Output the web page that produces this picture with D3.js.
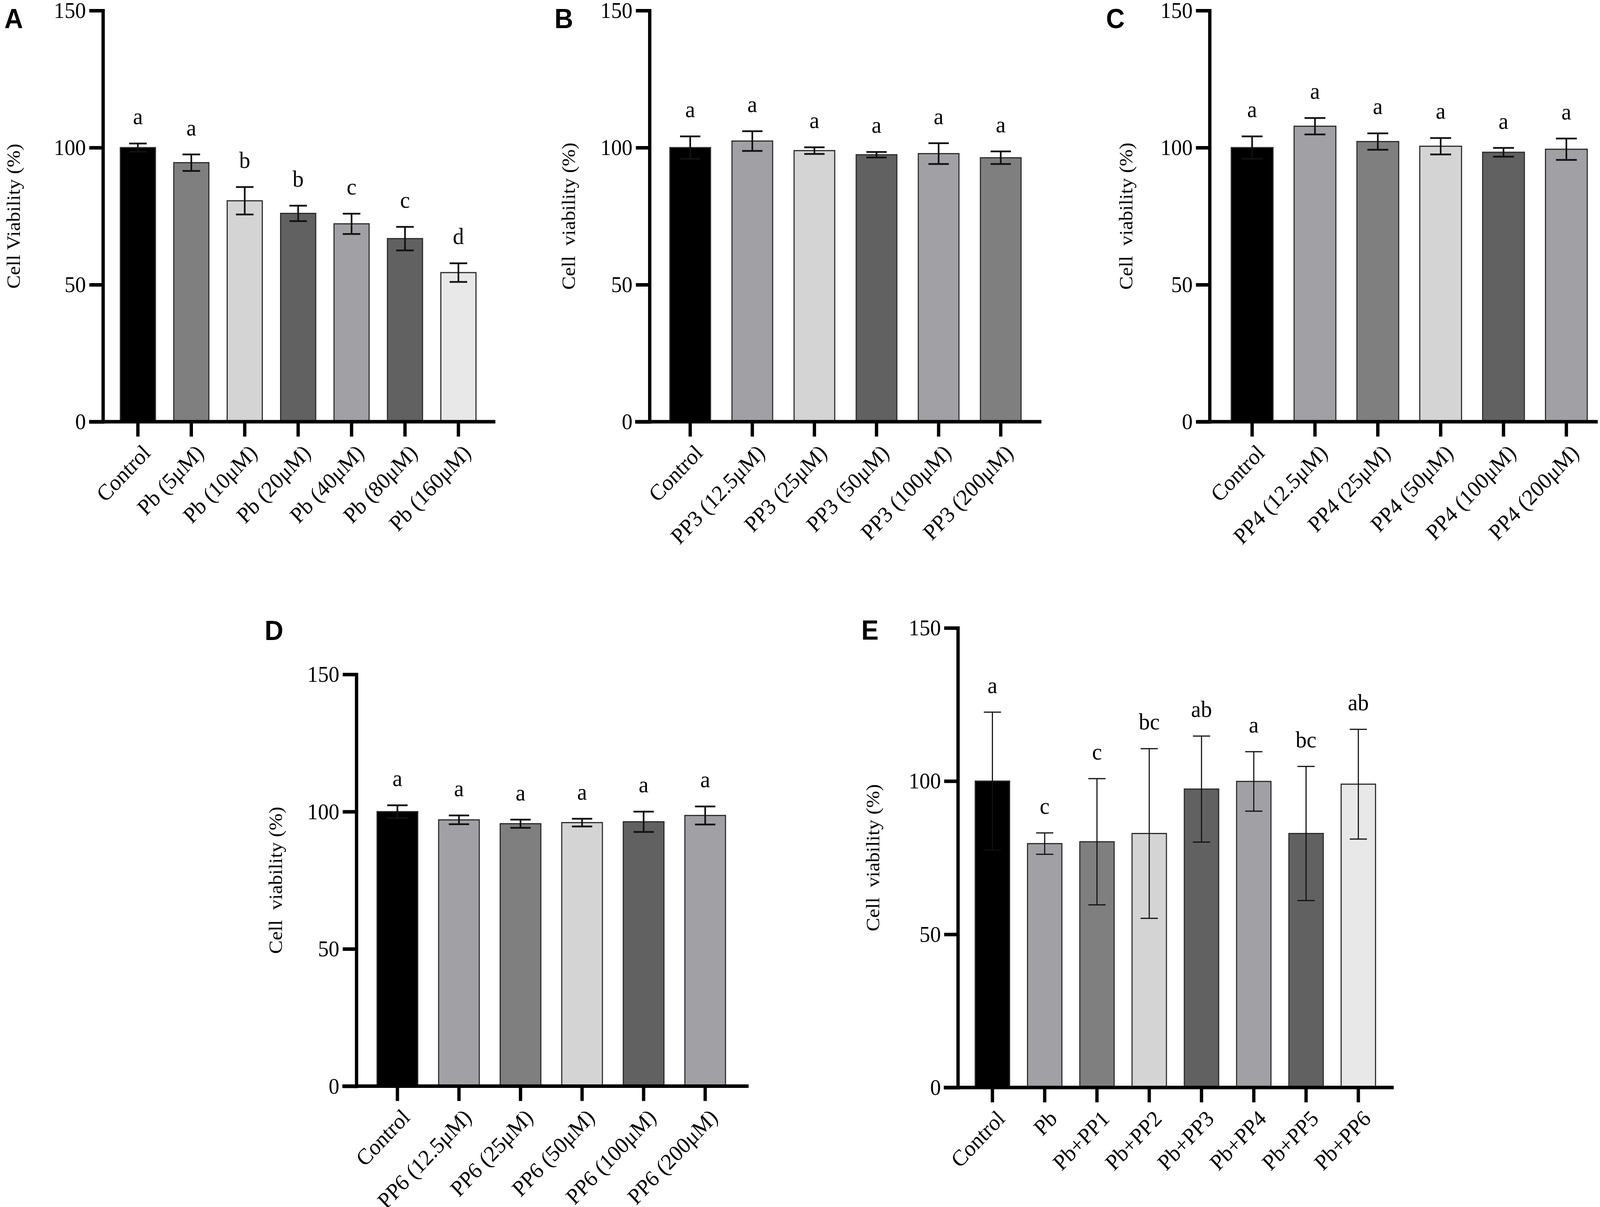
<!DOCTYPE html>
<html>
<head>
<meta charset="utf-8">
<script src="https://cdn.jsdelivr.net/npm/d3@7"></script>
<style>
  html, body { margin: 0; padding: 0; background: #fff; overflow: hidden; width: 100%; height: 100%; }
  #chart { width: 100vw; height: 100vh; }
  svg { display: block; width: 100%; height: 100%; }
  text { font-family: "Liberation Serif", "Times New Roman", serif; fill: #000; }
  .panel-tag { font-family: "Liberation Sans", Arial, sans-serif; font-weight: bold; }
</style>
</head>
<body>
<div id="chart"></div>
<script>
// ---- data ----
var yTicks = [0, 50, 100, 150];

var catsA = ["Control", "Pb (5μM)", "Pb (10μM)", "Pb (20μM)", "Pb (40μM)", "Pb (80μM)", "Pb (160μM)"];
var meanA = [100, 94.5, 80.6, 76.0, 72.2, 66.8, 54.4];
var errA  = [1.5, 3.0, 5.0, 2.8, 3.7, 4.3, 3.4];
var letA  = ["a", "a", "b", "b", "c", "c", "d"];

var catsB = ["Control", "PP3 (12.5μM)", "PP3 (25μM)", "PP3 (50μM)", "PP3 (100μM)", "PP3 (200μM)"];
var meanB = [100, 102.4, 98.9, 97.4, 97.8, 96.3];
var errB  = [4.1, 3.6, 1.2, 1.0, 3.8, 2.3];
var letB  = ["a", "a", "a", "a", "a", "a"];

var catsC = ["Control", "PP4 (12.5μM)", "PP4 (25μM)", "PP4 (50μM)", "PP4 (100μM)", "PP4 (200μM)"];
var meanC = [100, 107.8, 102.2, 100.5, 98.3, 99.4];
var errC  = [4.1, 3.0, 3.0, 3.0, 1.6, 3.9];
var letC  = ["a", "a", "a", "a", "a", "a"];

var catsD = ["Control", "PP6 (12.5μM)", "PP6 (25μM)", "PP6 (50μM)", "PP6 (100μM)", "PP6 (200μM)"];
var meanD = [100, 97.0, 95.6, 96.0, 96.3, 98.6];
var errD  = [2.3, 1.6, 1.5, 1.4, 3.7, 3.3];
var letD  = ["a", "a", "a", "a", "a", "a"];

var catsE = ["Control", "Pb", "Pb+PP1", "Pb+PP2", "Pb+PP3", "Pb+PP4", "Pb+PP5", "Pb+PP6"];
var meanE = [100, 79.6, 80.2, 82.9, 97.4, 99.9, 82.9, 99.0];
var errE  = [22.5, 3.5, 20.6, 27.7, 17.3, 9.7, 21.9, 17.9];
var letE  = ["a", "c", "c", "bc", "ab", "a", "bc", "ab"];

// bar fills (greys used by the figure)
var BLK = "#000000", MID = "#7f7f7f", LT = "#d4d4d4", DK = "#616161", BG = "#a1a1a5", XLT = "#e8e8e8";
var fillA = [BLK, MID, LT, DK, BG, DK, XLT];
var fillB = [BLK, BG, LT, DK, BG, MID];
var fillC = [BLK, BG, MID, LT, DK, BG];
var fillD = [BLK, BG, MID, LT, DK, BG];
var fillE = [BLK, BG, MID, LT, DK, BG, DK, XLT];

var W = 4328, H = 3091;

// drawn in the reference's own pixel space, stretched to whatever the viewport is
var svg = d3.select("#chart").append("svg")
    .attr("viewBox", "0 0 " + W + " " + H)
    .attr("preserveAspectRatio", "none");

svg.append("rect").attr("width", W).attr("height", H).attr("fill", "#fff");

function renderPanel(p) {
    var n = p.cats.length;
    var x = d3.scaleBand()
        .domain(p.cats)
        .range([p.c0 - p.step / 2, p.c0 + (n - 0.5) * p.step])
        .paddingInner(1 - p.bw / p.step)
        .paddingOuter((1 - p.bw / p.step) / 2);
    var y = d3.scaleLinear().domain([0, 150]).range([p.y0, p.y150]);

    var g = svg.append("g");
    var rows = p.cats.map(function(c, i) {
        return {cat: c, v: p.mean[i], e: p.err[i], l: p.lets[i], f: p.fill[i]};
    });

    // bars
    g.selectAll(".bar")
        .data(rows)
        .enter().append("rect")
        .attr("class", "bar")
        .attr("x", function(d) { return x(d.cat); })
        .attr("y", function(d) { return y(d.v); })
        .attr("width", x.bandwidth())
        .attr("height", function(d) { return y(0) - y(d.v); })
        .attr("fill", function(d) { return d.f; })
        .attr("stroke", "#2b2b2b")
        .attr("stroke-width", 3);

    // error bars
    var cap = x.bandwidth() * 0.25;
    var eb = g.selectAll(".err")
        .data(rows)
        .enter().append("g")
        .attr("class", "err")
        .attr("stroke", "#111")
        .attr("stroke-width", p.ew)
        .attr("transform", function(d) { return "translate(" + (x(d.cat) + x.bandwidth() / 2) + ",0)"; });
    eb.append("line")
        .attr("y1", function(d) { return y(d.v - d.e); })
        .attr("y2", function(d) { return y(d.v + d.e); });
    eb.append("line")
        .attr("x1", -cap).attr("x2", cap)
        .attr("y1", function(d) { return y(d.v + d.e); })
        .attr("y2", function(d) { return y(d.v + d.e); });
    eb.append("line")
        .attr("x1", -cap).attr("x2", cap)
        .attr("y1", function(d) { return y(d.v - d.e); })
        .attr("y2", function(d) { return y(d.v - d.e); });

    // significance letters
    g.selectAll(".sig")
        .data(rows)
        .enter().append("text")
        .attr("class", "sig")
        .attr("x", function(d) { return x(d.cat) + x.bandwidth() / 2; })
        .attr("y", function(d) { return y(d.v + d.e) - 49; })
        .attr("text-anchor", "middle")
        .attr("font-size", 60)
        .text(function(d) { return d.l; });

    // y axis
    var ya = g.append("g")
        .attr("transform", "translate(" + p.ax + ",0)")
        .call(d3.axisLeft(y).tickValues(yTicks).tickSize(37).tickSizeOuter(0).tickPadding(9));
    ya.select(".domain").attr("stroke", "#000").attr("stroke-width", 9).attr("stroke-linecap", "square");
    ya.selectAll(".tick line").attr("stroke", "#000").attr("stroke-width", 9);
    ya.selectAll(".tick text").attr("font-size", 58).attr("font-family", "Liberation Serif, serif").attr("fill", "#000");

    // x axis
    var xa = g.append("g")
        .attr("transform", "translate(0," + p.y0 + ")")
        .call(d3.axisBottom(x).tickSize(38).tickSizeOuter(0));
    xa.select(".domain").remove();
    xa.selectAll(".tick line").attr("stroke", "#000").attr("stroke-width", 9);
    xa.selectAll(".tick text")
        .attr("font-size", 58)
        .attr("font-family", "Liberation Serif, serif")
        .attr("fill", "#000")
        .attr("x", 0).attr("y", 0).attr("dy", 0)
        .attr("text-anchor", "end")
        .attr("transform", "translate(37,83) rotate(-45)");
    g.append("line")
        .attr("x1", p.xs).attr("x2", p.xe)
        .attr("y1", p.y0).attr("y2", p.y0)
        .attr("stroke", "#000").attr("stroke-width", 9);

    // y axis title
    g.append("text")
        .attr("transform", "translate(" + (p.tx + 17) + "," + ((p.y0 + p.y150) / 2) + ") rotate(-90)")
        .attr("text-anchor", "middle")
        .attr("font-size", 52)
        .style("white-space", "pre")
        .text(p.title);

    // panel tag
    g.append("text")
        .attr("class", "panel-tag")
        .attr("x", p.lx).attr("y", p.ly)
        .attr("font-size", 70)
        .text(p.tag);
}

renderPanel({tag: "A", lx: 12, ly: 72, cats: catsA, mean: meanA, err: errA, lets: letA, fill: fillA,
    c0: 373, step: 144.5, bw: 95, ax: 278.5, xs: 241, xe: 1340, y0: 1080, y150: 27, tx: 37, ew: 4.5,
    title: "Cell Viability (%)"});
renderPanel({tag: "B", lx: 1500, ly: 72, cats: catsB, mean: meanB, err: errB, lets: letB, fill: fillB,
    c0: 1867, step: 168, bw: 110, ax: 1757, xs: 1718, xe: 2817, y0: 1080, y150: 27, tx: 1538, ew: 4.5,
    title: "Cell  viability (%)"});
renderPanel({tag: "C", lx: 2992, ly: 72, cats: catsC, mean: meanC, err: errC, lets: letC, fill: fillC,
    c0: 3387, step: 170, bw: 113, ax: 3272, xs: 3237, xe: 4322, y0: 1080, y150: 27, tx: 3046, ew: 4.5,
    title: "Cell  viability (%)"});
renderPanel({tag: "D", lx: 716, ly: 1639, cats: catsD, mean: meanD, err: errD, lets: letD, fill: fillD,
    c0: 1075, step: 166.5, bw: 110, ax: 964, xs: 926, xe: 2025, y0: 2781.5, y150: 1727, tx: 746, ew: 4.5,
    title: "Cell  viability (%)"});
renderPanel({tag: "E", lx: 2330, ly: 1638, cats: catsE, mean: meanE, err: errE, lets: letE, fill: fillE,
    c0: 2684.5, step: 141.4, bw: 93, ax: 2591, xs: 2553, xe: 3770, y0: 2785, y150: 1608, tx: 2362, ew: 3,
    title: "Cell  viability (%)"});
</script>
</body>
</html>
